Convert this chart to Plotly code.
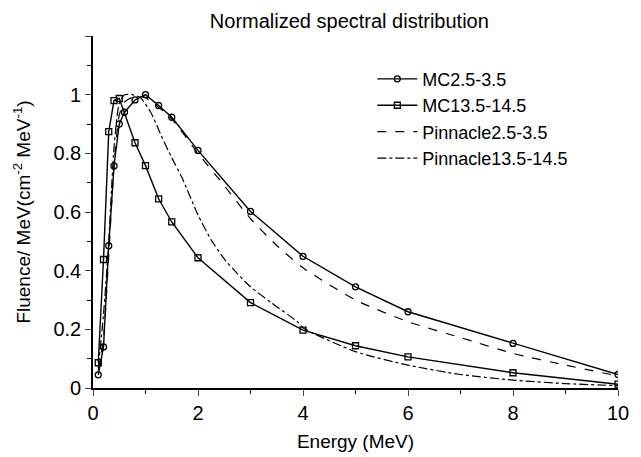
import plotly.graph_objects as go

# MC 2.5-3.5 MeV (circles)
mc1_x = [0.1, 0.2, 0.3, 0.4, 0.5, 0.6, 0.8, 1.0, 1.25, 1.5, 2, 3, 4, 5, 6, 8, 10]
mc1_y = [0.045, 0.14, 0.485, 0.757, 0.90, 0.94, 0.982, 1.0, 0.963, 0.923, 0.81, 0.602, 0.449, 0.345, 0.26, 0.152, 0.046]

# MC 13.5-14.5 MeV (squares)
mc2_x = [0.1, 0.2, 0.3, 0.4, 0.5, 0.8, 1.0, 1.25, 1.5, 2, 3, 4, 5, 6, 8, 10]
mc2_y = [0.086, 0.438, 0.874, 0.98, 0.987, 0.836, 0.758, 0.645, 0.566, 0.444, 0.291, 0.197, 0.144, 0.106, 0.052, 0.013]

# Pinnacle 2.5-3.5 (dashed)
pin1_x = [0.1, 0.2, 0.3, 0.4, 0.5, 0.6, 0.8, 1.0, 1.5, 2, 2.5, 3, 3.5, 4, 5, 6, 7, 8, 9, 10]
pin1_y = [0.06, 0.17, 0.45, 0.76, 0.93, 0.975, 0.995, 0.99, 0.917, 0.80, 0.69, 0.577, 0.486, 0.41, 0.30, 0.226, 0.172, 0.118, 0.078, 0.041]

# Pinnacle 13.5-14.5 (dash-dot)
pin2_x = [0.1, 0.2, 0.3, 0.4, 0.5, 0.6, 0.75, 0.9, 1.1, 1.3, 1.5, 1.7, 2.0, 2.25, 2.5, 2.75, 3.0, 3.4, 3.9, 4.0, 5, 6, 7, 8, 9, 10]
pin2_y = [0.07, 0.25, 0.50, 0.82, 0.97, 1.0, 1.0, 0.99, 0.94, 0.86, 0.785, 0.715, 0.59, 0.505, 0.44, 0.39, 0.345, 0.29, 0.225, 0.205, 0.124, 0.078, 0.046, 0.027, 0.015, 0.008]

x_tickvals = [0, 2, 4, 6, 8, 10]
y_tickvals = [0, 0.2, 0.4, 0.6, 0.8, 1.0, 1.2]
y_ticktext = ["0", "0.2", "0.4", "0.6", "0.8", "1", ""]

FONT = "Liberation Sans, Arial, sans-serif"

fig = go.Figure()
fig.add_trace(go.Scatter(x=mc1_x, y=mc1_y, mode="lines+markers", name="MC2.5-3.5",
                         line=dict(color="black", width=1.4),
                         marker=dict(symbol="circle-open", size=6, color="black", line=dict(width=1.3))))
fig.add_trace(go.Scatter(x=mc2_x, y=mc2_y, mode="lines+markers", name="MC13.5-14.5",
                         line=dict(color="black", width=1.4),
                         marker=dict(symbol="square-open", size=6, color="black", line=dict(width=1.3))))
fig.add_trace(go.Scatter(x=pin1_x, y=pin1_y, mode="lines", name="Pinnacle2.5-3.5",
                         line=dict(color="black", width=1.2, dash="dash", shape="spline", smoothing=0.6)))
fig.add_trace(go.Scatter(x=pin2_x, y=pin2_y, mode="lines", name="Pinnacle13.5-14.5",
                         line=dict(color="black", width=1.2, dash="dashdot", shape="spline", smoothing=0.6)))

fig.update_layout(
    width=641, height=457,
    margin=dict(l=93, r=23, t=36, b=69),
    paper_bgcolor="white", plot_bgcolor="white",
    font=dict(family=FONT, size=19, color="black"),
    title=dict(text="Normalized spectral distribution", font=dict(size=20, family=FONT, color="black"),
               xref="container", x=0.545, xanchor="center", yref="container", y=0.954, yanchor="middle"),
    legend=dict(x=0.532, y=0.93, xanchor="left", yanchor="top", bgcolor="rgba(0,0,0,0)",
                font=dict(size=18, family=FONT), tracegroupgap=0, itemwidth=40),
    showlegend=True,
)
fig.update_xaxes(range=[0, 10], tickvals=x_tickvals, ticks="outside", ticklen=6, tickwidth=1.3,
                 showline=True, linecolor="black", linewidth=1.6, showgrid=False, zeroline=False,
                 automargin=False,
                 minor=dict(dtick=1, ticks="outside", ticklen=4, tickwidth=1.2, tickcolor="black"),
                 title=dict(text="Energy (MeV)", font=dict(size=19), standoff=12),
                 tickfont=dict(size=20))
fig.update_yaxes(range=[0, 1.2], tickvals=y_tickvals, ticktext=y_ticktext, ticks="outside", ticklen=6, tickwidth=1.3,
                 showline=True, linecolor="black", linewidth=1.6, showgrid=False, zeroline=False,
                 automargin=False,
                 minor=dict(dtick=0.1, ticks="outside", ticklen=4, tickwidth=1.2, tickcolor="black"),
                 title=dict(text="Fluence/ MeV(cm<sup>-2</sup> MeV<sup>-1</sup>)", font=dict(size=19), standoff=18),
                 tickfont=dict(size=20))

fig.write_html("out.html", post_script="document.body.style.margin='0';",
               config={"displayModeBar": False})
